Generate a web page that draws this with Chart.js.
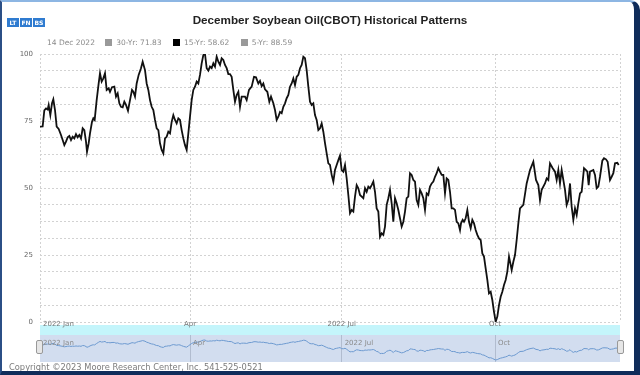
<!DOCTYPE html>
<html>
<head>
<meta charset="utf-8">
<script src="https://cdn.jsdelivr.net/npm/chart.js@4.4.1/dist/chart.umd.min.js"></script>
<style>
  html, body { margin: 0; padding: 0; background: #fff; }
  #wrap { position: relative; width: 640px; height: 375px; overflow: hidden; background: #fff; font-family: "DejaVu Sans", sans-serif; }
  #frame { position: absolute; left: 0; top: 0; width: 640px; height: 375px; box-sizing: border-box;
    border-top: 2px solid #8db6e3; border-left: 2px solid #2b4f86; border-right: 6px solid #0f2c5a;
    border-bottom: 4px solid #0f2c5a; border-top-right-radius: 10px; z-index: 10; pointer-events: none; }
  .btns { position: absolute; left: 7px; top: 18px; display: flex; gap: 1px; z-index: 5; }
  .btns span { display: block; width: 12px; height: 9px; background: #2f7bd0; color: #fff; font-size: 6px;
    line-height: 9px; text-align: center; font-weight: bold; }
  #title { position: absolute; left: 0; width: 660px; top: 13px; text-align: center; font: bold 11.7px "Liberation Sans", Arial, sans-serif; color: #222; z-index: 5; }
  #legend { position: absolute; left: 47px; top: 38px; font-size: 7.5px; color: #8a8a8a; white-space: nowrap; z-index: 5; }
  #legend span { display: inline-block; vertical-align: middle; }
  #legend .sq { width: 7px; height: 7px; margin: 0 4px 0 0; }
  #cyan { position: absolute; left: 40px; top: 325px; width: 580px; height: 10px; background: #c4f5fb; z-index: 1; }
  #navbg { position: absolute; left: 40px; top: 335px; width: 580px; height: 27px; background: #d2ddef; z-index: 1; }
  #main { position: absolute; left: 0; top: 0; z-index: 2; }
  #nav { position: absolute; left: 40px; top: 335px; z-index: 3; }
  .handle { position: absolute; top: 340px; width: 5px; height: 12px; background: #e6e6e6; border: 1px solid #999; border-radius: 2px; z-index: 4; }
  #copy { position: absolute; left: 9px; top: 362px; font-size: 8.3px; color: #7c7c7c; z-index: 5; }
</style>
</head>
<body>
<div id="wrap">
  <div id="frame"></div>
  <div class="btns"><span>LT</span><span>FN</span><span>BS</span></div>
  <div id="title">December Soybean Oil(CBOT) Historical Patterns</div>
  <div id="legend">
    <span style="margin-right:8px">14 Dec 2022</span>
    <span class="sq" style="background:#999"></span><span style="margin-right:9px">30-Yr: 71.83</span>
    <span class="sq" style="background:#000"></span><span style="margin-right:9px">15-Yr: 58.62</span>
    <span class="sq" style="background:#999"></span><span>5-Yr: 88.59</span>
  </div>
  <div id="cyan"></div>
  <div id="navbg"></div>
  <canvas id="main" width="640" height="340"></canvas>
  <canvas id="nav" width="580" height="27"></canvas>
  <div class="handle" style="left:36px"></div>
  <div class="handle" style="left:617px"></div>
  <div id="copy">Copyright ©2023 Moore Research Center, Inc. 541-525-0521</div>
</div>
<script>
// ---- data (days counted from 1 Jan 2022) ----
const tickDays = [0, 90, 181, 273];
const tickLabels = ['2022 Jan', 'Apr', '2022 Jul', 'Oct'];
const lastDay = 348;

const days = [
  0, 1.6, 2.6, 3.6, 4.6, 5.2, 6.2, 7.2, 8, 9, 10, 11.2, 12.6, 13.6, 14.6, 15.6, 16.6, 17.6, 18.6, 19.6,
  20.6, 21.6, 22.6, 23.6, 24.6, 25.6, 26.6, 27.6, 28.2, 29.2, 30, 31.2, 32, 32.8, 34, 35.2, 36, 37, 38, 39,
  40, 41.2, 42, 43.2, 44.6, 45.6, 46.6, 47.6, 48.6, 49.6, 50.6, 51.6, 52.8, 54, 55.2, 56, 57, 58, 59.2, 60.6,
  61.6, 63, 64, 65, 66, 67, 68, 69, 70, 71, 72, 73, 74, 75, 76, 77, 78, 79, 80, 81,
  82, 83, 84, 85, 86, 87, 88, 89, 90, 91, 92, 93, 94, 95, 96, 97, 98, 99, 100, 101,
  102, 103, 104, 105, 106, 107, 108, 109, 110, 111, 112, 113, 114, 115, 116, 117, 118, 119, 120, 121,
  122, 123, 124, 125.4, 127, 128.4, 129.6, 131, 132, 133, 134, 135, 136.4, 137.6, 138.6, 140, 141, 142, 143, 144,
  145, 146, 147, 148, 149, 150, 151, 152, 153, 154, 155, 156, 157, 158, 159, 160, 161, 162, 163, 164,
  165, 166, 167, 168, 169, 170, 171, 172, 173, 174, 175, 176, 177, 178, 179, 180, 181, 182, 183, 184,
  185, 186, 187, 188, 189, 190, 191, 192, 193, 194, 195, 196, 197, 198, 199, 200, 201, 202, 203, 204,
  205, 206, 207, 208, 209, 210, 211, 212, 213, 214, 215, 216, 217, 218, 219, 220, 221, 222, 223, 224,
  225, 226, 227, 228, 229, 230, 231, 232, 233, 234, 235, 236, 237, 238, 239, 240, 241, 242, 243, 244,
  245, 246, 247, 248, 249, 250, 251, 252, 252.6, 253.6, 254.4, 255.4, 256.4, 257.4, 258.4, 259.4, 260.4, 261.4, 262.4, 263.4,
  264.4, 265.4, 266.4, 267.4, 268.4, 269.4, 270.4, 271.4, 272.4, 273.4, 274.4, 275.4, 276.4, 277.4, 278.4, 279.4, 280.4, 281.4, 282.4, 283,
  284, 285, 286, 287, 288, 290, 292, 294, 296, 297.6, 299, 300, 301, 303, 304, 305, 306, 307.6, 309, 310,
  311, 312, 313, 314, 315, 316, 317, 318, 319, 320, 321, 322, 323, 324, 325, 326.4, 327.6, 328.4, 329.2, 330,
  332, 333, 334, 335, 336, 337.4, 338.4, 339.6, 340.6, 342, 343, 344, 345, 346.4, 347.2
];

const values15 = [
  72.9, 73, 79, 79.7, 79.3, 81, 77.2, 81.6, 83.1, 79.1, 72.9, 72, 69.8, 67.9, 66, 67.3, 68.9, 69.4, 67.9, 69.1,
  68.5, 70.1, 68.9, 69.8, 68.5, 72.3, 71.6, 67.3, 63.5, 66.7, 70.4, 74.7, 76, 75.4, 82.8, 89, 92.8, 89.7, 90.9, 92.8,
  86.6, 87.2, 85.9, 87.6, 87.8, 84.1, 85.3, 81.6, 80.3, 80.1, 82.2, 81, 78.8, 82.8, 86.6, 85.9, 84.1, 89, 92.2, 94.7,
  97.1, 94, 89, 86.6, 82.8, 80.3, 79.1, 75.4, 72.3, 71.6, 66.7, 64.2, 62.9, 68.5, 69.1, 71, 70.4, 74.7, 77.2, 75.4,
  74.1, 76, 75.4, 71.6, 68.5, 66, 64.2, 70.4, 76.6, 82.8, 86.6, 87.8, 89.7, 89, 92.2, 96.5, 99.6, 100, 94.7, 93.8,
  95.3, 94.7, 96.5, 95.3, 99, 97.1, 95.9, 98.4, 97.8, 95.9, 94.7, 92.5, 92.5, 91.5, 86.6, 82.2, 84.7, 85.9, 80.3, 84.1,
  84.1, 84.1, 82.8, 86.6, 87.8, 91.5, 91.3, 89, 90, 88, 89, 86.8, 85.9, 82.2, 84.1, 81.6, 79.1, 75.4, 76.6, 78.4,
  77.9, 80.3, 81.6, 83.5, 84.7, 87.8, 89, 90.9, 88.4, 91.5, 92.2, 94.7, 95.9, 99, 98.4, 94, 87.8, 82.2, 81, 81.6,
  77.2, 75.4, 71.6, 72.3, 74.1, 71, 66.7, 62.9, 59.2, 58.6, 54.9, 52.4, 56.7, 58.6, 60.4, 62.1, 56.7, 56.1, 58.6, 53.6,
  47.4, 40.6, 41.8, 41.2, 46.8, 51.1, 49.9, 47.4, 46.8, 46.2, 49.9, 48.6, 50.5, 49.9, 51.1, 52.4, 48.6, 42.4, 41.2, 31.8,
  33.1, 32.5, 35.6, 43.7, 46.2, 49.3, 44.3, 37.4, 46.2, 44.3, 41.8, 38.7, 35.6, 37.4, 41.2, 46.2, 46.8, 55.5, 54.9, 53,
  52.4, 45.5, 43.7, 49.3, 48, 46.2, 41.8, 48, 47.4, 50.5, 51.7, 52.4, 54.2, 55.5, 57.4, 56.1, 54.9, 54.9, 48, 53.6,
  53, 48.6, 42.4, 42.4, 41.8, 37.4, 36.8, 34.3, 36.8, 38.1, 37.4, 38.7, 41.8, 37.4, 35, 38.1, 36.8, 34.3, 32.5, 31.2,
  30.6, 25.6, 24.4, 20, 15.7, 10.7, 11.3, 8.2, 3.8, 0.1, 2, 6.3, 9.4, 11.3, 13.8, 15.7, 18.8, 24.4, 21.3, 19.4,
  22.5, 25, 30.6, 36.8, 42.4, 43.7, 51.7, 56.7, 59.8, 53, 51.1, 45.5, 49.3, 51.7, 53.6, 53, 59.2, 57.4, 56.1, 53,
  56.7, 51.7, 56.7, 53, 49.3, 43.7, 45.5, 51.7, 43, 38.1, 42.4, 39.9, 44.3, 48, 48.6, 57.4, 56.7, 56.1, 51.1, 56.1,
  56.7, 54.9, 49.9, 50.5, 54.2, 60.2, 61.1, 60.7, 59.8, 53, 54.2, 55.5, 59.2, 59.4, 58.6
];

const yLabelEvery = 25;
const yGridStep = 6.25;

const points = days.map(function(d, i) { return { x: d, y: values15[i] }; });

// draws the date labels at the scale's own tick positions
function dateLabels(opts) {
  return {
    id: 'dateLabels',
    afterDraw: function(chart) {
      const ctx = chart.ctx;
      const xs = chart.scales.x;
      ctx.save();
      ctx.font = '7px "DejaVu Sans", sans-serif';
      ctx.fillStyle = opts.color;
      ctx.textBaseline = 'middle';
      tickDays.forEach(function(d, i) {
        const px = xs.getPixelForValue(d);
        if (opts.leftAll || i === 0) {
          ctx.textAlign = 'left';
          ctx.fillText(tickLabels[i], px + 3, opts.y);
        } else {
          ctx.textAlign = 'center';
          ctx.fillText(tickLabels[i], px, opts.y);
        }
      });
      ctx.restore();
    }
  };
}

// ---- main chart ----
new Chart(document.getElementById('main').getContext('2d'), {
  type: 'line',
  data: {
    datasets: [{
      label: '15-Yr',
      data: points,
      borderColor: '#111',
      borderWidth: 1.8,
      pointRadius: 0,
      tension: 0,
      fill: false
    }]
  },
  options: {
    responsive: false,
    animation: false,
    events: [],
    layout: { padding: { top: 54, right: 20, bottom: 6, left: 0 } },
    plugins: { legend: { display: false }, tooltip: { enabled: false } },
    scales: {
      x: {
        type: 'linear',
        min: 0,
        max: lastDay,
        afterBuildTicks: function(s) {
          s.ticks = tickDays.concat([lastDay]).map(function(v) { return { value: v }; });
        },
        afterFit: function(s) { s.height = 12; },
        ticks: { display: false },
        grid: { color: '#d2d2d2', drawTicks: false },
        border: { display: false, dash: [2, 2] }
      },
      y: {
        min: 0,
        max: 100,
        afterFit: function(s) { s.width = 40; },
        ticks: {
          stepSize: yGridStep,
          autoSkip: false,
          padding: 7,
          color: '#666',
          font: { family: 'DejaVu Sans', size: 7 },
          callback: function(v) { return v % yLabelEvery === 0 ? v : ''; }
        },
        grid: { color: '#d2d2d2', drawTicks: false },
        border: { display: false, dash: [2, 2] }
      }
    }
  },
  plugins: [dateLabels({ color: '#777', y: 324, leftAll: false })]
});

// ---- navigator ----
new Chart(document.getElementById('nav').getContext('2d'), {
  type: 'line',
  data: {
    datasets: [{
      data: points,
      borderColor: '#6d9ad0',
      borderWidth: 1,
      pointRadius: 0,
      tension: 0,
      fill: false
    }]
  },
  options: {
    responsive: false,
    animation: false,
    events: [],
    layout: { padding: 0 },
    plugins: { legend: { display: false }, tooltip: { enabled: false } },
    scales: {
      x: {
        type: 'linear',
        min: 0,
        max: lastDay,
        afterBuildTicks: function(s) {
          s.ticks = tickDays.slice(1).map(function(v) { return { value: v }; });
        },
        afterFit: function(s) { s.height = 0; },
        ticks: { display: false },
        grid: { color: 'rgba(150,160,180,0.55)', drawTicks: false },
        border: { display: false }
      },
      y: { display: false, min: -10, max: 125 }
    }
  },
  plugins: [dateLabels({ color: '#8a8a8a', y: 8, leftAll: true })]
});
</script>
</body>
</html>
